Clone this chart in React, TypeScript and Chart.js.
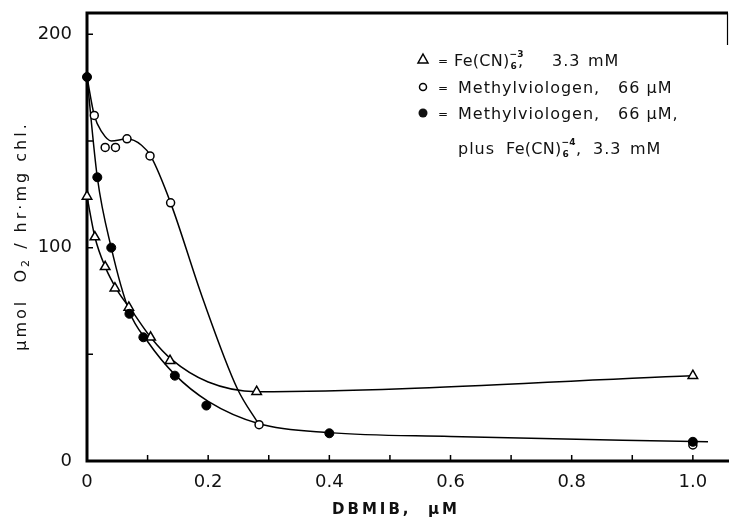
import React, { useEffect, useRef } from "react";
import { Chart, registerables } from "chart.js";
Chart.register(...registerables);

const FONT = "DejaVu Sans";

// Measured points (x: DBMIB µM, y: µmol O2/hr·mg chl.)
const triX = [0, 0.013, 0.03, 0.046, 0.069, 0.105, 0.137, 0.28, 1.0];
const triY = [124, 105, 91, 81, 72, 58, 47, 32.5, 40];
const openX = [0.012, 0.03, 0.047, 0.066, 0.104, 0.138, 0.284, 1.0];
const openY = [162, 147, 147, 151, 143, 121, 17, 7.5];
const filledX = [0, 0.017, 0.04, 0.07, 0.093, 0.145, 0.197, 0.4, 1.0];
const filledY = [180, 133, 100, 69, 58, 40, 26, 13, 9];

// Hand-drawn fitted curves
const triFitX = [0, 0.013, 0.03, 0.05, 0.075, 0.105, 0.14, 0.2, 0.28, 1.0];
const triFitY = [124, 105, 91, 80, 70, 58, 47.5, 37, 32.5, 40];
const openFitX = [0, 0.012, 0.025, 0.04, 0.066, 0.09, 0.105, 0.138, 0.19, 0.248, 0.284];
const openFitY = [180, 162, 154, 150, 151, 148, 143, 121, 77, 34, 17];
const filledFitX = [0, 0.017, 0.04, 0.07, 0.1, 0.145, 0.2, 0.284, 0.4, 0.6, 1.025];
const filledFitY = [180, 133, 100, 70, 56, 40.5, 28, 17.5, 13.3, 11.5, 9];

const xTickVals = [0, 0.2, 0.4, 0.6, 0.8, 1.0];
const xTickLabels = ["0", "0.2", "0.4", "0.6", "0.8", "1.0"];
const yTickVals = [0, 100, 200];
const yTickLabels = ["0", "100", "200"];
const xInnerTicks = [0.1, 0.2, 0.3, 0.4, 0.5, 0.6, 0.7, 0.8, 0.9, 1.0];
const yInnerTicks = [50, 100, 150, 200];

const pts = (xs: number[], ys: number[]) => xs.map((x, i) => ({ x, y: ys[i] }));

type Seg = { t: string; size: number; dy?: number };

function runWidth(ctx: CanvasRenderingContext2D, segs: Seg[], weight = "normal") {
  let w = 0;
  for (const s of segs) {
    ctx.font = `${weight} ${s.size}px "${FONT}"`;
    w += ctx.measureText(s.t).width;
  }
  return w;
}
function drawRun(ctx: CanvasRenderingContext2D, segs: Seg[], x: number, y: number, weight = "normal") {
  let cx = x;
  for (const s of segs) {
    ctx.font = `${weight} ${s.size}px "${FONT}"`;
    ctx.fillText(s.t, cx, y + (s.dy || 0));
    cx += ctx.measureText(s.t).width;
  }
  return cx;
}

function feCN(ctx: CanvasRenderingContext2D, x: number, y: number, charge: string) {
  (ctx as any).letterSpacing = "0.3px";
  ctx.font = `normal 16px "${FONT}"`;
  ctx.fillText("Fe(CN)", x, y);
  const w = ctx.measureText("Fe(CN)").width;
  ctx.font = `bold 9px "${FONT}"`;
  (ctx as any).letterSpacing = "0px";
  ctx.fillText("6", x + w + 1, y + 3);
  ctx.fillText(charge, x + w, y - 9);
}

const zeroPad = (s: any) => {
  s.paddingLeft = 0;
  s.paddingRight = 0;
  s.paddingTop = 0;
  s.paddingBottom = 0;
};

const overlay = {
  id: "overlay",
  beforeDatasetsDraw(chart: any) {
    const ctx: CanvasRenderingContext2D = chart.ctx;
    const { left, right, top, bottom } = chart.chartArea;
    const xs = chart.scales.x;
    const ys = chart.scales.y;
    ctx.save();
    ctx.strokeStyle = "#000";
    ctx.lineWidth = 3;
    ctx.beginPath();
    ctx.moveTo(left, top - 1.5);
    ctx.lineTo(left, bottom + 1.5);
    ctx.moveTo(left - 1.5, bottom);
    ctx.lineTo(right + 1, bottom);
    ctx.moveTo(left - 1.5, top);
    ctx.lineTo(right, top);
    ctx.stroke();
    ctx.lineWidth = 1.2;
    ctx.beginPath();
    ctx.moveTo(right - 0.5, top);
    ctx.lineTo(right - 0.5, top + 32);
    ctx.stroke();
    ctx.lineWidth = 1.5;
    ctx.beginPath();
    for (const v of xInnerTicks) {
      const px = xs.getPixelForValue(v);
      ctx.moveTo(px, bottom);
      ctx.lineTo(px, bottom - 6);
    }
    for (const v of yInnerTicks) {
      const py = ys.getPixelForValue(v);
      ctx.moveTo(left, py);
      ctx.lineTo(left + 6, py);
    }
    ctx.stroke();
    ctx.restore();
  },
  afterDraw(chart: any) {
    const ctx: CanvasRenderingContext2D = chart.ctx;
    ctx.save();
    ctx.fillStyle = "#111";
    ctx.strokeStyle = "#000";
    ctx.textBaseline = "alphabetic";
    ctx.textAlign = "left";

    // Legend markers
    ctx.lineWidth = 1.5;
    ctx.beginPath();
    ctx.moveTo(423, 54);
    ctx.lineTo(428, 63);
    ctx.lineTo(418, 63);
    ctx.closePath();
    ctx.fillStyle = "#fff";
    ctx.fill();
    ctx.stroke();
    ctx.beginPath();
    ctx.arc(423, 87, 3.5, 0, Math.PI * 2);
    ctx.fill();
    ctx.stroke();
    ctx.fillStyle = "#111";
    ctx.beginPath();
    ctx.arc(423, 113, 4.5, 0, Math.PI * 2);
    ctx.fill();

    // Legend text
    (ctx as any).letterSpacing = "0px";
    ctx.font = `normal 12px "${FONT}"`;
    ctx.fillText("=", 438, 65);
    ctx.fillText("=", 438, 92);
    ctx.fillText("=", 438, 118);

    feCN(ctx, 454, 66, "\u22123");
    (ctx as any).letterSpacing = "1px";
    ctx.font = `normal 16px "${FONT}"`;
    ctx.fillText(",", 518, 66);
    ctx.fillText("3.3", 552, 66);
    ctx.fillText("mM", 588, 66);

    ctx.fillText("Methylviologen,", 458, 93);
    ctx.fillText("66 \u03bcM", 618, 93);

    ctx.fillText("Methylviologen,", 458, 119);
    ctx.fillText("66 \u03bcM,", 618, 119);

    ctx.fillText("plus", 458, 154);
    feCN(ctx, 506, 154, "\u22124");
    (ctx as any).letterSpacing = "1px";
    ctx.font = `normal 16px "${FONT}"`;
    ctx.fillText(",", 576, 154);
    ctx.fillText("3.3", 593, 154);
    ctx.fillText("mM", 630, 154);

    // X axis title
    (ctx as any).letterSpacing = "3px";
    ctx.font = `bold 15px "${FONT}"`;
    const xt = "DBMIB,  \u03bcM";
    const xw = ctx.measureText(xt).width;
    ctx.fillText(xt, 396 - xw / 2, 514);

    // Y axis title (rotated)
    (ctx as any).letterSpacing = "3px";
    const ysegs: Seg[] = [
      { t: "\u03bcmol  O", size: 16 },
      { t: "2", size: 11, dy: 3 },
      { t: " / hr\u00b7mg chl.", size: 16 },
    ];
    const yw = runWidth(ctx, ysegs);
    ctx.translate(26, 236);
    ctx.rotate(-Math.PI / 2);
    drawRun(ctx, ysegs, -yw / 2, 0);
    ctx.restore();
  },
};

export default function App() {
  const ref = useRef<HTMLCanvasElement | null>(null);
  useEffect(() => {
    document.body.style.margin = "0";
    const canvas = ref.current;
    if (!canvas) return;
    const lineDs = (xs: number[], ys: number[]) => ({
      data: pts(xs, ys),
      showLine: true,
      pointRadius: 0,
      borderColor: "#000",
      borderWidth: 1.5,
      cubicInterpolationMode: "monotone" as const,
      fill: false,
      order: 5,
      clip: false as any,
    });
    const chart = new Chart(canvas, {
      type: "scatter",
      data: {
        datasets: [
          {
            label: "Fe(CN)6-3",
            data: pts(triX, triY),
            pointStyle: "triangle",
            pointRadius: 5.5,
            pointBackgroundColor: "#fff",
            pointBorderColor: "#000",
            pointBorderWidth: 1.5,
            showLine: false,
            order: 1,
            clip: false as any,
          },
          {
            label: "Methylviologen",
            data: pts(openX, openY),
            pointStyle: "circle",
            pointRadius: 4,
            pointBackgroundColor: "#fff",
            pointBorderColor: "#000",
            pointBorderWidth: 1.5,
            showLine: false,
            order: 2,
            clip: false as any,
          },
          {
            label: "Methylviologen + Fe(CN)6-4",
            data: pts(filledX, filledY),
            pointStyle: "circle",
            pointRadius: 4.5,
            pointBackgroundColor: "#000",
            pointBorderColor: "#000",
            pointBorderWidth: 1,
            showLine: false,
            order: 0,
            clip: false as any,
          },
          lineDs(triFitX, triFitY),
          lineDs(openFitX, openFitY),
          lineDs(filledFitX, filledFitY),
        ],
      },
      options: {
        animation: false,
        responsive: false,
        maintainAspectRatio: false,
        layout: { autoPadding: false, padding: { top: 13, right: 1, left: 0, bottom: 0 } },
        plugins: { legend: { display: false }, tooltip: { enabled: false } },
        scales: {
          x: {
            type: "linear",
            min: 0,
            max: 1.058,
            grid: { display: false },
            border: { display: false },
            afterBuildTicks: (s: any) => {
              s.ticks = xTickVals.map((v) => ({ value: v }));
            },
            ticks: {
              autoSkip: false,
              maxRotation: 0,
              padding: 3,
              color: "#111",
              font: { family: FONT, size: 18 },
              callback: (_v: any, i: number) => xTickLabels[i] ?? "",
            },
            afterFit: (s: any) => {
              s.height = 57;
              zeroPad(s);
            },
          },
          y: {
            type: "linear",
            min: 0,
            max: 210,
            grid: { display: false },
            border: { display: false },
            afterBuildTicks: (s: any) => {
              s.ticks = yTickVals.map((v) => ({ value: v }));
            },
            ticks: {
              autoSkip: false,
              padding: 7,
              color: "#111",
              font: { family: FONT, size: 18 },
              callback: (_v: any, i: number) => yTickLabels[i] ?? "",
            },
            afterFit: (s: any) => {
              s.width = 87;
              zeroPad(s);
            },
          },
        },
      },
      plugins: [overlay],
    });
    return () => chart.destroy();
  }, []);
  return (
    <div style={{ width: 729, height: 518, position: "relative", background: "#fff" }}>
      <canvas ref={ref} width={729} height={518} style={{ display: "block" }} />
    </div>
  );
}
